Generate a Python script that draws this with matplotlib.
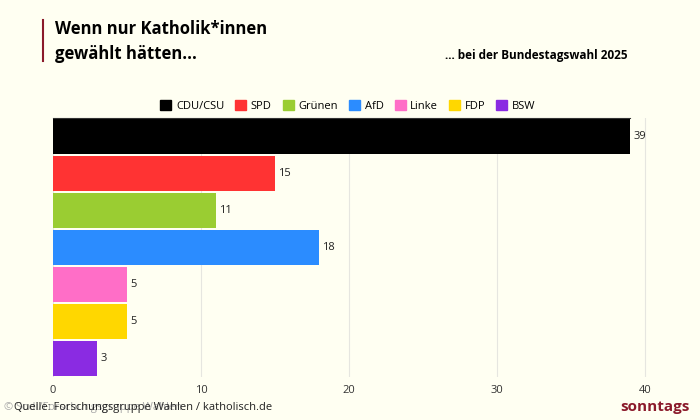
import matplotlib
matplotlib.use("Agg")
import matplotlib.pyplot as plt
from matplotlib.patches import Patch

parties = ["CDU/CSU", "SPD", "Grünen", "AfD", "Linke", "FDP", "BSW"]
values = [39, 15, 11, 18, 5, 5, 3]
colors = ["#000000", "#ff3333", "#9acd32", "#2b8cff", "#ff6ec7", "#ffd700", "#8a2be2"]
xticks = [0, 10, 20, 30, 40]

plt.rcParams['font.family'] = ['Open Sans', 'DejaVu Sans']
bg = "#fffff2"
fig = plt.figure(figsize=(7, 4.2), dpi=100, facecolor=bg)
ax = fig.add_axes([0.0757, 0.102, 0.867, 0.617], facecolor=bg)
y = list(range(len(parties)))
ax.barh(y, values, color=colors, height=0.93)
for yi, v in zip(y, values):
    ax.text(v + 0.2, yi, str(v), va="center", ha="left", fontsize=8, color="#222222")
ax.set_ylim(len(parties) - 0.5, -0.5)
ax.set_xlim(0, 41)
ax.set_xticks(xticks)
ax.tick_params(axis="x", length=0, labelsize=8, colors="#333333", pad=6)
ax.set_yticks([])
ax.grid(axis="x", color="#e6e6e0", linewidth=0.8)
ax.set_axisbelow(True)
for s in ["left", "right", "bottom"]:
    ax.spines[s].set_visible(False)
ax.spines["top"].set_color("#333333")
ax.spines["top"].set_bounds(0, 39)

handles = [Patch(color=c, label=p) for p, c in zip(parties, colors)]
fig.legend(handles=handles, loc="center", bbox_to_anchor=(0.497, 0.747), ncol=7,
           frameon=False, fontsize=8, handlelength=1.0, handleheight=1.0,
           handletextpad=0.4, columnspacing=1.0)

fig.add_artist(plt.Line2D([0.062, 0.062], [0.855, 0.953], color="#8b1a2b", linewidth=1.5))
fig.text(0.079, 0.93, "Wenn nur Katholik*innen", fontsize=12, fontweight="bold", va="center")
fig.text(0.079, 0.872, "gewählt hätten...", fontsize=12, fontweight="bold", va="center")
fig.text(0.897, 0.867, "... bei der Bundestagswahl 2025", fontsize=8.5, fontweight="bold",
         va="center", ha="right")
fig.text(0.005, 0.03, "© Sodi/Forschungsgruppe Wahlen", fontsize=8, color="#aaaaaa", va="center")
fig.text(0.02, 0.03, "Quelle: Forschungsgruppe Wahlen / katholisch.de", fontsize=8,
         color="#222222", va="center")
fig.text(0.985, 0.03, "sonntags", fontsize=11, fontweight="bold", color="#8b1a2b",
         va="center", ha="right")
fig.savefig("out.png", facecolor=bg)
